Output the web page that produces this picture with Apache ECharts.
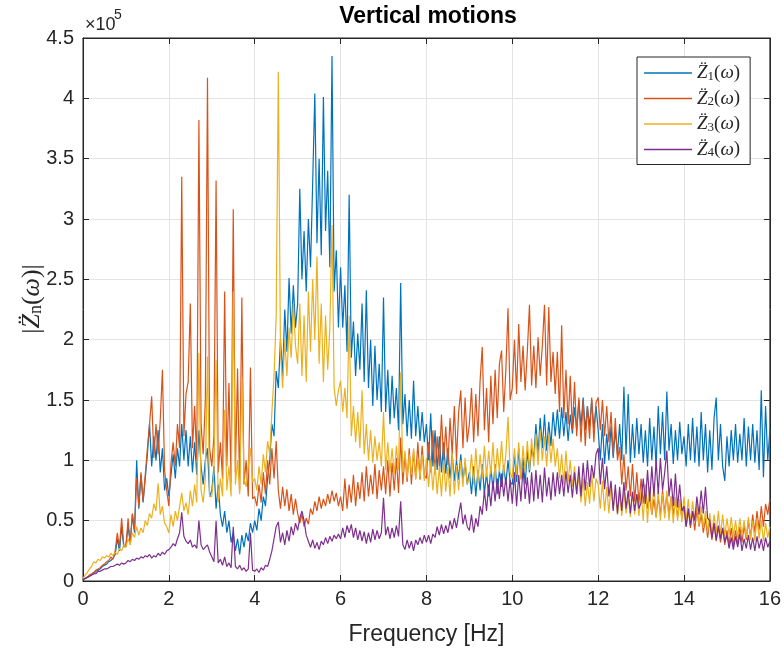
<!DOCTYPE html>
<html><head><meta charset="utf-8">
<script src="https://cdn.jsdelivr.net/npm/echarts@6/dist/echarts.min.js"></script>
<style>html,body{margin:0;padding:0;background:#fff}#c{width:784px;height:652px}</style>
</head><body><div id="c"></div>
<script>
// Frequency grid [Hz] (0.05 Hz sampling, 0..16 Hz)
const freqStart = 0, freqStep = 0.05, freqCount = 321;
const freq = Array.from({length: freqCount}, (_, i) => +(freqStart + i * freqStep).toFixed(2));

// |Z''_n(omega)| in units of 1e5, one row per Hz (20 samples each), last value at 16 Hz
const Z1 = [
0.01,0.02,0.03,0.04,0.05,0.06,0.08,0.09,0.10,0.12,0.13,0.14,0.16,0.17,0.19,0.22,0.35,0.25,0.45,0.28,
0.30,0.45,0.32,0.55,0.40,1.00,0.60,0.88,0.65,0.85,1.05,1.30,0.95,1.20,1.00,1.25,0.90,1.10,0.75,0.85,
0.70,0.88,1.05,0.85,1.10,0.95,1.30,1.00,1.25,0.95,1.20,0.90,1.15,0.88,1.25,0.95,0.80,1.00,1.10,0.70,
0.75,0.95,0.60,0.80,0.55,0.45,0.58,0.40,0.50,0.32,0.40,0.25,0.35,0.22,0.38,0.28,0.40,0.33,0.48,0.40,
0.50,0.42,0.60,0.50,0.70,0.62,0.85,1.00,1.30,1.20,1.74,1.60,2.00,1.70,2.25,1.90,2.51,2.05,2.45,2.10,
2.30,3.25,2.50,2.90,2.40,3.00,2.60,3.30,4.04,2.80,3.50,2.70,4.01,2.90,3.40,2.60,4.35,2.40,2.74,2.10,
2.60,2.10,2.45,1.90,3.20,1.85,2.15,1.70,2.05,1.75,2.30,1.65,2.41,1.60,2.00,1.45,1.95,1.50,1.80,1.40,
2.35,1.40,1.75,1.30,1.70,1.35,1.60,1.25,2.47,1.30,1.55,1.20,1.50,1.18,1.66,1.20,1.45,1.16,1.40,1.15,
1.30,1.00,1.39,0.95,1.25,0.92,1.20,0.90,1.15,0.89,1.10,0.85,1.05,0.83,1.00,0.84,1.05,0.83,0.98,0.80,
0.90,0.72,0.95,0.70,0.92,0.75,0.97,0.72,0.90,0.70,0.95,0.75,0.97,0.72,0.92,0.78,0.96,0.80,1.00,0.82,
0.80,1.05,0.82,1.10,0.85,1.02,0.80,1.08,0.90,1.10,1.02,1.30,1.05,1.35,1.10,1.38,1.08,1.32,1.12,1.40,
1.20,1.42,1.18,1.44,1.20,1.40,1.16,1.38,1.22,1.44,1.25,1.50,1.28,1.52,1.25,1.45,1.28,1.50,1.26,1.45,
1.25,1.00,1.30,0.97,1.22,1.00,1.28,1.02,1.25,1.05,1.30,1.00,1.61,1.05,1.55,0.98,1.30,1.02,1.35,1.05,
1.30,0.98,1.25,0.95,1.35,1.00,1.28,0.95,1.45,1.05,1.40,1.00,1.57,1.08,1.30,0.97,1.25,1.00,1.32,1.05,
1.20,0.95,1.30,1.00,1.35,0.98,1.28,0.95,1.40,1.00,1.30,0.90,1.25,0.92,1.35,1.52,1.00,1.30,0.95,0.83,
1.20,0.95,1.25,1.00,1.30,0.98,1.22,1.00,1.35,0.95,1.28,1.00,1.30,0.98,1.25,0.92,1.58,0.86,1.45,1.00,
1.25];
const Z2 = [
0.01,0.02,0.03,0.05,0.06,0.07,0.09,0.10,0.11,0.13,0.14,0.16,0.17,0.20,0.18,0.25,0.40,0.28,0.52,0.30,
0.28,0.52,0.30,0.56,0.42,0.85,0.62,0.90,0.66,0.88,1.10,1.30,1.53,1.02,1.30,1.05,1.34,1.75,0.92,0.75,
0.62,0.98,1.15,0.95,1.30,1.10,3.35,1.20,1.55,1.65,2.30,1.10,1.45,1.00,3.82,1.30,1.05,1.50,4.17,1.10,
0.95,1.20,3.32,0.90,1.15,0.85,2.40,0.95,1.64,0.82,3.08,0.90,1.76,0.75,2.35,0.80,1.00,0.70,1.77,0.68,
0.70,0.62,0.80,0.65,0.90,0.72,1.00,0.80,1.10,0.85,1.16,0.75,0.60,0.78,0.62,0.76,0.58,0.72,0.55,0.68,
0.56,0.48,0.55,0.45,0.52,0.47,0.60,0.55,0.66,0.58,0.70,0.60,0.68,0.62,0.72,0.64,0.75,0.66,0.73,0.62,
0.70,0.58,0.85,0.60,0.80,0.65,0.88,0.62,0.82,0.68,0.90,0.66,0.95,0.70,0.88,0.72,0.97,0.68,0.92,0.75,
0.95,0.72,1.00,0.70,0.98,0.75,1.02,0.73,1.19,0.80,1.05,0.82,1.10,0.80,1.08,0.85,1.15,0.84,1.12,0.88,
0.85,1.15,0.90,1.25,0.88,1.20,0.95,1.38,1.00,1.28,0.96,1.35,1.05,1.45,1.00,1.40,1.58,1.10,1.52,1.15,
1.30,1.60,1.15,1.55,1.20,1.66,1.94,1.25,1.60,1.15,1.70,1.30,1.75,1.35,1.80,1.91,1.40,1.75,2.26,1.50,
1.60,2.00,1.55,2.13,1.65,1.95,1.58,1.90,2.29,1.62,1.95,1.60,2.02,1.70,1.95,2.29,1.62,2.27,1.65,1.90,
1.55,1.90,1.40,2.12,1.35,1.75,1.30,1.70,1.25,1.65,1.20,1.52,1.15,1.50,1.12,1.45,1.18,1.52,1.15,1.48,
1.52,1.25,1.50,1.20,1.45,1.15,1.40,1.05,1.35,1.00,1.11,0.80,1.05,0.75,0.95,0.70,0.97,0.66,0.90,0.64,
0.85,0.64,0.80,0.60,0.70,0.55,0.68,0.53,0.70,0.55,0.75,0.56,0.72,0.54,0.70,0.55,0.68,0.53,0.66,0.52,
0.62,0.45,0.60,0.44,0.58,0.42,0.60,0.45,0.55,0.40,0.52,0.36,0.50,0.34,0.48,0.33,0.45,0.32,0.44,0.30,
0.42,0.30,0.44,0.29,0.42,0.30,0.45,0.32,0.46,0.34,0.50,0.36,0.55,0.40,0.58,0.42,0.62,0.45,0.64,0.55,
0.68];
const Z3 = [
0.02,0.05,0.07,0.10,0.12,0.16,0.15,0.18,0.17,0.20,0.19,0.21,0.20,0.23,0.21,0.24,0.22,0.27,0.25,0.30,
0.28,0.35,0.30,0.40,0.36,0.45,0.38,0.44,0.40,0.50,0.46,0.56,0.52,0.64,0.58,0.81,0.55,0.62,0.48,0.45,
0.40,0.55,0.45,0.58,0.50,0.62,0.73,0.58,0.65,0.55,0.75,0.62,0.80,0.65,1.89,0.75,0.65,0.85,1.86,0.70,
0.70,0.90,1.83,0.65,0.85,0.70,1.42,0.75,0.95,0.70,2.40,0.80,1.00,0.72,1.69,0.85,0.78,0.95,1.10,0.82,
0.85,0.75,0.95,0.80,1.05,0.90,1.16,1.05,1.40,1.70,2.20,4.22,1.90,1.60,2.00,1.70,2.10,1.85,2.30,1.95,
1.80,2.30,1.70,2.20,1.65,2.40,1.90,2.50,2.00,2.69,1.80,2.30,1.65,2.20,1.75,2.10,2.95,1.60,1.45,1.58,
1.66,1.40,1.60,1.35,2.20,1.20,1.45,1.15,1.40,1.10,1.58,1.05,1.30,1.00,1.25,0.98,1.20,1.00,1.15,0.95,
1.40,0.92,1.15,0.90,1.10,0.88,1.12,0.92,1.73,0.90,1.08,0.85,1.05,0.88,1.10,0.84,1.02,0.86,1.05,0.83,
1.02,0.78,1.00,0.75,0.98,0.72,0.95,0.70,1.00,0.74,0.95,0.70,1.05,0.72,0.96,0.75,1.00,0.78,1.02,0.80,
0.85,1.05,0.80,1.10,0.82,1.05,0.85,1.12,0.86,1.08,0.88,1.15,0.85,1.10,0.90,1.16,0.88,1.05,1.36,0.90,
0.85,1.10,0.88,1.15,0.84,1.12,0.90,1.16,0.92,1.18,0.95,1.22,0.96,1.25,1.00,1.20,0.95,1.22,0.98,1.18,
0.95,1.10,0.85,1.05,0.80,1.08,0.82,1.00,0.78,0.95,0.72,0.88,0.65,0.85,0.62,0.82,0.64,0.89,0.66,0.85,
0.80,0.60,0.83,0.58,0.78,0.56,0.80,0.60,0.75,0.55,0.72,0.54,0.75,0.56,0.70,0.53,0.74,0.55,0.72,0.54,
0.75,0.50,0.80,0.48,0.78,0.55,0.81,0.52,0.75,0.50,0.72,0.52,0.75,0.50,0.70,0.48,0.70,0.50,0.68,0.49,
0.70,0.50,0.68,0.48,0.66,0.50,0.64,0.46,0.62,0.44,0.58,0.40,0.56,0.38,0.55,0.40,0.58,0.38,0.55,0.37,
0.52,0.38,0.53,0.37,0.50,0.36,0.52,0.38,0.50,0.36,0.53,0.34,0.50,0.33,0.52,0.35,0.50,0.33,0.48,0.36,
0.45];
const Z4 = [
0.01,0.02,0.03,0.04,0.05,0.06,0.06,0.08,0.08,0.09,0.10,0.10,0.11,0.12,0.12,0.13,0.14,0.13,0.15,0.14,
0.15,0.17,0.16,0.18,0.17,0.19,0.18,0.20,0.19,0.21,0.20,0.22,0.19,0.21,0.20,0.23,0.21,0.24,0.22,0.25,
0.26,0.28,0.31,0.29,0.35,0.40,0.57,0.37,0.33,0.31,0.34,0.28,0.30,0.27,0.50,0.30,0.26,0.28,0.30,0.24,
0.20,0.16,0.50,0.15,0.18,0.13,0.20,0.12,0.15,0.11,0.45,0.12,0.10,0.13,0.09,0.11,0.08,0.10,0.40,0.09,
0.08,0.10,0.07,0.11,0.09,0.13,0.12,0.18,0.25,0.35,0.45,0.49,0.32,0.40,0.30,0.42,0.33,0.45,0.38,0.48,
0.42,0.52,0.58,0.50,0.38,0.33,0.28,0.34,0.27,0.32,0.26,0.33,0.30,0.36,0.31,0.37,0.33,0.38,0.35,0.39,
0.35,0.44,0.36,0.46,0.40,0.47,0.36,0.44,0.34,0.42,0.33,0.41,0.31,0.40,0.32,0.43,0.34,0.42,0.35,0.40,
0.69,0.38,0.45,0.35,0.44,0.36,0.46,0.37,0.66,0.30,0.26,0.34,0.27,0.33,0.25,0.34,0.30,0.36,0.31,0.38,
0.32,0.38,0.31,0.39,0.36,0.45,0.38,0.47,0.39,0.46,0.40,0.50,0.43,0.52,0.44,0.55,0.65,0.47,0.55,0.45,
0.42,0.55,0.40,0.52,0.45,0.62,0.55,0.75,0.58,0.80,0.62,0.83,0.66,0.85,0.68,0.89,0.70,0.86,0.66,0.84,
0.64,0.90,0.62,0.88,0.66,0.94,0.68,0.86,0.64,0.90,0.66,0.92,0.68,0.88,0.65,0.94,0.70,0.86,0.67,0.90,
0.70,0.90,0.72,0.88,0.70,0.91,0.73,0.88,0.69,0.90,0.72,0.95,0.70,0.98,0.75,1.00,0.78,0.96,0.85,1.05,
1.10,0.80,1.02,0.76,0.95,0.70,0.83,0.58,0.80,0.56,0.78,0.58,0.82,0.60,0.75,0.56,0.74,0.58,0.72,0.60,
0.65,0.85,0.64,0.92,0.66,0.95,0.70,1.00,0.72,1.02,0.75,0.90,1.08,0.70,0.85,0.62,0.89,0.61,0.80,0.58,
0.62,0.45,0.60,0.46,0.58,0.50,0.70,0.55,0.75,0.56,0.78,0.52,0.50,0.36,0.48,0.34,0.46,0.35,0.44,0.32,
0.38,0.27,0.36,0.26,0.37,0.28,0.39,0.25,0.35,0.27,0.38,0.26,0.36,0.25,0.37,0.27,0.35,0.25,0.36,0.28,
0.33];

const seriesNames = ['Z1', 'Z2', 'Z3', 'Z4'];
const seriesSubs = ['1', '2', '3', '4'];
const seriesColors = ['#0072BD', '#D95319', '#EDB120', '#7E2F8E'];
const seriesData = [Z1, Z2, Z3, Z4];

const xTicks = {min: 0, max: 16, interval: 2};
const yTicks = {min: 0, max: 4.5, interval: 0.5};

const AX = '#262626';
const GRIDC = '#e3e3e3';
const SANS = '"Liberation Sans", Arial, Helvetica, sans-serif';
const SERIF = '"Liberation Serif", "DejaVu Serif", serif';

const chart = echarts.init(document.getElementById('c'), null, {renderer: 'canvas'});

const mathRich = (size) => ({
  i: {fontFamily: SERIF, fontStyle: 'italic', fontSize: size, color: AX, fill: AX},
  p: {fontFamily: SERIF, fontSize: size, color: AX, fill: AX},
  s: {fontFamily: SERIF, fontSize: Math.round(size * 0.7), color: AX, fill: AX, padding: [Math.round(size * 0.35), 0, 0, 0]}
});

chart.setOption({
  animation: false,
  backgroundColor: '#fff',
  grid: {left: 83, right: 12, top: 38, bottom: 71, show: true, borderColor: AX, borderWidth: 1, backgroundColor: 'transparent'},
  xAxis: [{
    type: 'value', min: xTicks.min, max: xTicks.max, interval: xTicks.interval,
    name: 'Frequency [Hz]', nameLocation: 'middle', nameGap: 42,
    nameTextStyle: {fontFamily: SANS, fontSize: 23, color: AX},
    axisLine: {show: true, onZero: false, lineStyle: {color: AX, width: 1}},
    axisTick: {show: true, inside: true, length: 6, lineStyle: {color: AX}},
    axisLabel: {fontFamily: SANS, fontSize: 20, color: AX, margin: 8},
    splitLine: {show: true, lineStyle: {color: GRIDC, width: 1}}
  }, {
    type: 'value', position: 'top', min: xTicks.min, max: xTicks.max, interval: xTicks.interval,
    axisLine: {show: true, onZero: false, lineStyle: {color: AX, width: 1}},
    axisTick: {show: true, inside: true, length: 6, lineStyle: {color: AX}},
    axisLabel: {show: false}, splitLine: {show: false}
  }],
  yAxis: [{
    type: 'value', min: yTicks.min, max: yTicks.max, interval: yTicks.interval,
    axisLine: {show: true, onZero: false, lineStyle: {color: AX, width: 1}},
    axisTick: {show: true, inside: true, length: 6, lineStyle: {color: AX}},
    axisLabel: {fontFamily: SANS, fontSize: 20, color: AX, margin: 9},
    splitLine: {show: true, lineStyle: {color: GRIDC, width: 1}}
  }, {
    type: 'value', position: 'right', min: yTicks.min, max: yTicks.max, interval: yTicks.interval,
    axisLine: {show: true, onZero: false, lineStyle: {color: AX, width: 1}},
    axisTick: {show: true, inside: true, length: 6, lineStyle: {color: AX}},
    axisLabel: {show: false}, splitLine: {show: false}
  }],
  legend: {
    orient: 'vertical', left: 637, top: 57,
    padding: [6, 10, 5, 7], itemGap: 5.5, itemWidth: 48, itemHeight: 1.5, itemTextGap: 7,
    icon: 'rect',
    backgroundColor: '#fff', borderColor: AX, borderWidth: 1, borderRadius: 0,
    selectedMode: false,
    data: seriesNames,
    formatter: (name) => {
      const k = seriesNames.indexOf(name);
      return '{i|Z\u0308}{s|' + seriesSubs[k] + '}{p|(}{i|\u03c9}{p|)}';
    },
    textStyle: {fontSize: 19, lineHeight: 20, rich: mathRich(19)}
  },
  graphic: [
    {type: 'text', x: 428, y: 17, style: {text: 'Vertical motions', fontFamily: SANS, fontWeight: 'bold', fontSize: 23, fill: '#000', textAlign: 'center', textVerticalAlign: 'middle'}},
    {type: 'text', x: 85, y: 25, style: {text: '\u00d710', fontFamily: SANS, fontSize: 18, fill: AX, textAlign: 'left', textVerticalAlign: 'middle'}},
    {type: 'text', x: 114, y: 15, style: {text: '5', fontFamily: SANS, fontSize: 14, fill: AX, textAlign: 'left', textVerticalAlign: 'middle'}},
    {type: 'text', x: 32, y: 299, rotation: Math.PI / 2,
     style: {text: '{p||}{i|Z\u0308}{s|n}{p|(}{i|\u03c9}{p|)}{p||}', rich: mathRich(26), fontSize: 26, fill: AX,
             textAlign: 'center', textVerticalAlign: 'middle'}}
  ],
  series: seriesNames.map((n, k) => ({
    name: n, type: 'line', xAxisIndex: 0, yAxisIndex: 0,
    symbol: 'none', showSymbol: false, sampling: null,
    lineStyle: {color: seriesColors[k], width: 1.2},
    itemStyle: {color: seriesColors[k]},
    data: freq.map((f, i) => [f, seriesData[k][i]])
  }))
});
</script></body></html>
